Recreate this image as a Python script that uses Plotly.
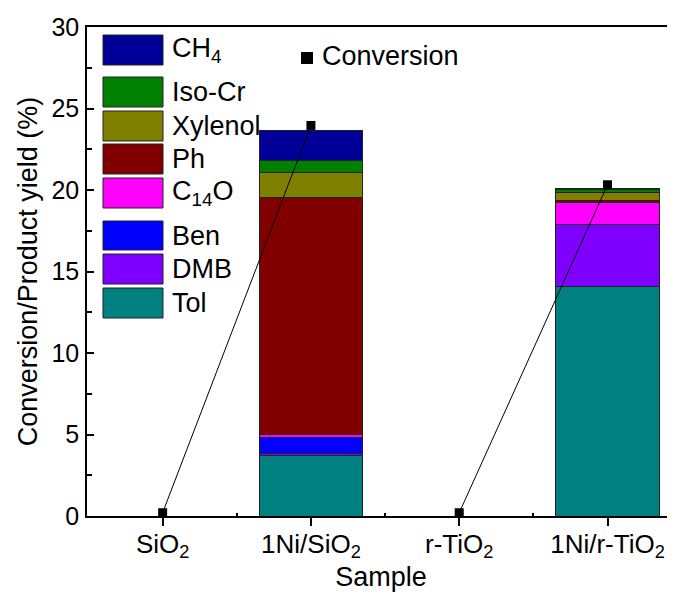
import plotly.graph_objects as go

# ---------------- data ----------------
categories = ["SiO<sub>2</sub>", "1Ni/SiO<sub>2</sub>", "r-TiO<sub>2</sub>", "1Ni/r-TiO<sub>2</sub>"]

# product yields (%), bottom -> top of stack
tol     = [None, 3.73, None, 14.10]
dmb     = [None, 0.09, None, 3.78]
ben     = [None, 0.98, None, 0.00]
c14o    = [None, 0.20, None, 1.33]
ph      = [None, 14.52, None, 0.14]
xylenol = [None, 1.57, None, 0.51]
isocr   = [None, 0.74, None, 0.20]
ch4     = [None, 1.84, None, 0.06]

conversion = [0.2, 23.96, 0.2, 20.32]
# conversion segments: support -> Ni-loaded catalyst
conv_pairs = [(0, 1), (2, 3)]

series_names = ["Tol", "DMB", "Ben", "C<sub>14</sub>O", "Ph", "Xylenol", "Iso-Cr", "CH<sub>4</sub>"]
series_values = [tol, dmb, ben, c14o, ph, xylenol, isocr, ch4]
series_colors = ["#008080", "#8000FF", "#0000FF", "#FF00FF", "#800000", "#808000", "#008000", "#000099"]

# ---------------- figure ----------------
FONT = "Liberation Sans, Arial, sans-serif"
OFF = 8  # page offset of the plot div (default body margin)
W, H = 667, 588
ML, MR, MT, MB = 79, 0, 19, 80
PW, PH = W - ML - MR, H - MT - MB

def px_x(px):
    """page pixel x -> paper x"""
    return (px - OFF - ML) / PW

def px_y(py):
    """page pixel y -> paper y"""
    return (H - MB - (py - OFF)) / PH

xpos = list(range(len(categories)))

fig = go.Figure()
for name, vals, col in zip(series_names, series_values, series_colors):
    fig.add_trace(go.Bar(
        x=xpos, y=vals, name=name, width=0.7,
        marker=dict(color=col, line=dict(color="#222222", width=1)),
        showlegend=False,
    ))

# conversion connecting lines
lx, ly = [], []
for a, b in conv_pairs:
    lx += [xpos[a], xpos[b], None]
    ly += [conversion[a], conversion[b], None]
fig.add_trace(go.Scatter(x=lx, y=ly, mode="lines", line=dict(color="black", width=1),
                         showlegend=False, hoverinfo="skip"))
fig.add_trace(go.Scatter(x=xpos, y=conversion, mode="markers", name="Conversion",
                         marker=dict(symbol="square", size=9, color="black"),
                         cliponaxis=False, showlegend=False))

# ---------------- custom legend ----------------
legend_rows = [  # (top px, bottom px) for each entry, top to bottom
    ("CH<sub>4</sub>", 35, 65),
    ("Iso-Cr", 77, 107),
    ("Xylenol", 111, 141),
    ("Ph", 144, 174),
    ("C<sub>14</sub>O", 178, 208),
    ("Ben", 221, 250),
    ("DMB", 254, 284),
    ("Tol", 288, 318),
]
color_of = dict(zip(series_names, series_colors))
shapes = []
annotations = []
for name, top, bot in legend_rows:
    shapes.append(dict(type="rect", xref="paper", yref="paper",
                       x0=px_x(103), x1=px_x(163), y0=px_y(bot), y1=px_y(top),
                       fillcolor=color_of[name], line=dict(color="#222222", width=1)))
    annotations.append(dict(xref="paper", yref="paper", x=px_x(170), y=px_y((top + bot) / 2),
                            text=name, showarrow=False, xanchor="left", yanchor="middle",
                            font=dict(family=FONT, size=27, color="black")))

# Conversion legend entry
shapes.append(dict(type="rect", xref="paper", yref="paper",
                   x0=px_x(301), x1=px_x(313), y0=px_y(64), y1=px_y(52),
                   fillcolor="black", line=dict(color="black", width=0)))
annotations.append(dict(xref="paper", yref="paper", x=px_x(320), y=px_y(56),
                        text="Conversion", showarrow=False, xanchor="left", yanchor="middle",
                        font=dict(family=FONT, size=27, color="black")))

mid_ticks = [(xpos[i] + xpos[i + 1]) / 2 for i in range(len(xpos) - 1)]

fig.update_layout(
    width=W, height=H,
    margin=dict(l=ML, r=MR, t=MT, b=MB, pad=0),
    barmode="stack",
    plot_bgcolor="white", paper_bgcolor="white",
    font=dict(family=FONT, color="black"),
    shapes=shapes, annotations=annotations,
    xaxis=dict(
        range=[-0.51, 3.455],
        tickmode="array", tickvals=xpos, ticktext=categories,
        tickfont=dict(size=26),
        ticks="outside", ticklen=8, tickwidth=1.5, tickcolor="black",
        ticklabelstandoff=-4,
        minor=dict(tickvals=mid_ticks, ticks="inside", ticklen=3, tickwidth=1.5, tickcolor="black"),
        showline=True, linecolor="black", linewidth=1.5, mirror=True,
        showgrid=False, zeroline=False,
        title=dict(text="Sample", font=dict(size=27), standoff=0),
    ),
    yaxis=dict(
        range=[0, 30],
        tickmode="linear", tick0=0, dtick=5,
        tickfont=dict(size=25),
        ticks="inside", ticklen=7, tickwidth=1.5, tickcolor="black",
        minor=dict(dtick=2.5, ticks="inside", ticklen=5, tickwidth=1.5, tickcolor="black"),
        ticklabelstandoff=1,
        showline=True, linecolor="black", linewidth=1.5, mirror=False,
        showgrid=False, zeroline=False,
        title=dict(text="Conversion/Product yield (%)", font=dict(size=27), standoff=6),
    ),
)

fig.write_html("out.html")
